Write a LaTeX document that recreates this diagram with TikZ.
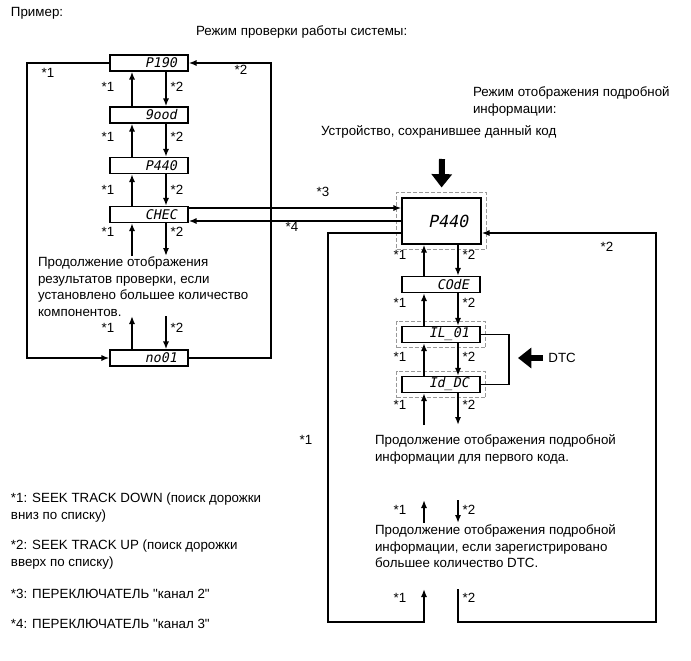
\documentclass[tikz,border=0pt]{standalone}
\usepackage{fontspec}
\setmainfont{Liberation Sans}[Ligatures=TeXOff]
\newfontfamily\segfont[FakeSlant=0.2]{DejaVu Sans Mono}
\usetikzlibrary{arrows.meta,fit}

\tikzset{
  disp/.style={draw, line width=0.9pt, minimum width=58.5pt, minimum height=12pt,
    inner sep=0pt, text width=42pt, align=right,
    font=\segfont\fontsize{10}{10}\selectfont},
  bigdisp/.style={disp, minimum width=59.25pt, minimum height=34.5pt, text width=40pt,
    font=\segfont\fontsize{12.5}{12.5}\selectfont},
  dashbox/.style={draw=gray!80, line width=0.7pt, dash pattern=on 3pt off 1.5pt, inner sep=3.6pt},
  lbl/.style={inner sep=0pt},
  para/.style={anchor=north west, inner sep=0pt, align=left},
  fat/.style={line width=4.5pt, -{Triangle[length=10pt,width=15pt]}},
}

\begin{document}
\begin{tikzpicture}[x=0.75pt,y=-0.75pt,line width=1.5pt,
    >={Latex[length=6pt,width=4.6pt]},
    font=\fontsize{10}{12.4}\selectfont]
  \useasboundingbox (0,0) rectangle (691,660);

  % Titles
  \node[anchor=west, inner sep=0pt] (title) at (10,13) {Пример:};
  \node[anchor=west, inner sep=0pt] (modeA) at (195,32) {Режим проверки работы системы:};
  \node[para] (modeB) at (472,86) {Режим отображения подробной\\информации:};
  \node[anchor=west, inner sep=0pt] (device) at (320,132) {Устройство, сохранившее данный код};

  % System check mode
  \node[disp] (P190) at (149,63) {P190};
  \node[disp] (Good) at (149,115) {9ood};
  \node[disp] (PA) at (149,165.5) {P440};
  \node[disp] (CHEC) at (149,214.5) {CHEC};
  \node[disp] (No01) at (149,358) {no01};

  \coordinate (upL) at (132,0);
  \coordinate (dnL) at (166,0);
  \foreach \a/\b in {P190/Good, Good/PA, PA/CHEC} {
    \draw[->] (\b.north -| upL) -- (\a.south -| upL);
    \draw[->] (\a.south -| dnL) -- (\b.north -| dnL);
  }
  \coordinate (cL1) at (132,256);
  \coordinate (cL2) at (166,256);
  \coordinate (cL3) at (132,316);
  \coordinate (cL4) at (166,316);
  \draw[->] (cL1) -- (CHEC.south -| cL1);
  \draw[->] (CHEC.south -| cL2) -- (cL2);
  \draw[->] (No01.north -| cL3) -- (cL3);
  \draw[->] (cL4) -- (No01.north -| cL4);

  \foreach \y [count=\i] in {87,137,190,232,328} {
    \node[lbl] (lu\i) at (108,\y) {*1};
    \node[lbl] (ld\i) at (177,\y) {*2};
  }

  \node[para] (contL) at (37,256) {Продолжение отображения\\результатов проверки, если\\установлено большее количество\\компонентов.};

  % loops round the list
  \coordinate (lL) at (27,358);
  \coordinate (rL) at (271,63);
  \draw[->] (P190.west) -| (lL) -- (No01.west);
  \draw[->] (No01.east) -| (rL) -- (P190.east);
  \node[lbl] (loopL) at (48,73) {*1};
  \node[lbl] (loopR) at (241,70) {*2};

  % Detailed info mode
  \node[bigdisp] (PB) at (441.5,221) {P440};
  \node[dashbox, fit=(PB)] (PBd) {};
  \node[disp] (Code) at (441,284.5) {COdE};
  \node[disp] (IL) at (441,334.5) {IL\_01};
  \node[dashbox, fit=(IL)] (ILd) {};
  \node[disp] (Id) at (441,384.5) {Id\_DC};
  \node[dashbox, fit=(Id)] (Idd) {};

  \coordinate (devTail) at (442,159);
  \draw[fat, shorten >=3.5pt] (devTail) -- (PBd.north);

  % switches
  \coordinate (s3) at (0,208);
  \coordinate (s4) at (0,221);
  \draw[->] (CHEC.east |- s3) -- (PB.west |- s3);
  \draw[->] (PB.west |- s4) -- (CHEC.east |- s4);
  \node[lbl] (sw3) at (323,192) {*3};
  \node[lbl] (sw4) at (292,227) {*4};

  \coordinate (upR) at (424,0);
  \coordinate (dnR) at (458,0);
  \foreach \a/\b in {PB/Code, Code/IL, IL/Id} {
    \draw[->] (\b.north -| upR) -- (\a.south -| upR);
    \draw[->] (\a.south -| dnR) -- (\b.north -| dnR);
  }
  \coordinate (cR1) at (424,425);
  \coordinate (cR2) at (458,425);
  \draw[->] (cR1) -- (Id.south -| cR1);
  \draw[->] (Id.south -| cR2) -- (cR2);

  \foreach \y [count=\i] in {255,303,357,405,510,598} {
    \node[lbl] (ru\i) at (400,\y) {*1};
    \node[lbl] (rd\i) at (469,\y) {*2};
  }

  % DTC bracket
  \coordinate (brk) at (509,384.5);
  \draw[line width=0.8pt] (IL.east) -| (brk) -- (Id.east);
  \node[anchor=west] (dtc) at (543,358) {DTC};
  \coordinate (dtcTip) at (518,358);
  \draw[fat] (dtc.west) -- (dtcTip);

  \node[para] (contR1) at (374,434) {Продолжение отображения подробной\\информации для первого кода.};

  \coordinate (mU1) at (424,523);
  \coordinate (mU2) at (424,500);
  \coordinate (mD1) at (458,500);
  \coordinate (mD2) at (458,523);
  \draw[->] (mU1) -- (mU2);
  \draw[->] (mD1) -- (mD2);

  \node[para] (contR2) at (374,524) {Продолжение отображения подробной\\информации, если зарегистрировано\\большее количество DTC.};

  % loops round the details
  \coordinate (lR) at (328,233);
  \coordinate (lRb) at (328,622);
  \coordinate (rRb) at (656,622);
  \coordinate (cR5) at (424,589);
  \coordinate (cR6) at (458,589);
  \draw[->] (PB.west |- lR) -- (lR) -- (lRb) -| (cR5);
  \draw[->] (cR6) |- (rRb) -- (rRb |- lR) -- (PB.east |- lR);
  \node[lbl] (loopRL) at (306,440) {*1};
  \node[lbl] (loopRR) at (607,247) {*2};

  % Legend
  \node[para, font=\fontsize{10}{12.75}\selectfont] (leg1) at (10,492) {*1: SEEK TRACK DOWN (поиск дорожки\\вниз по списку)};
  \node[para, font=\fontsize{10}{12.75}\selectfont] (leg2) at (10,539) {*2: SEEK TRACK UP (поиск дорожки\\вверх по списку)};
  \node[para] (leg3) at (10,588) {*3: ПЕРЕКЛЮЧАТЕЛЬ "канал 2"};
  \node[para] (leg4) at (10,618) {*4: ПЕРЕКЛЮЧАТЕЛЬ "канал 3"};
\end{tikzpicture}
\end{document}
